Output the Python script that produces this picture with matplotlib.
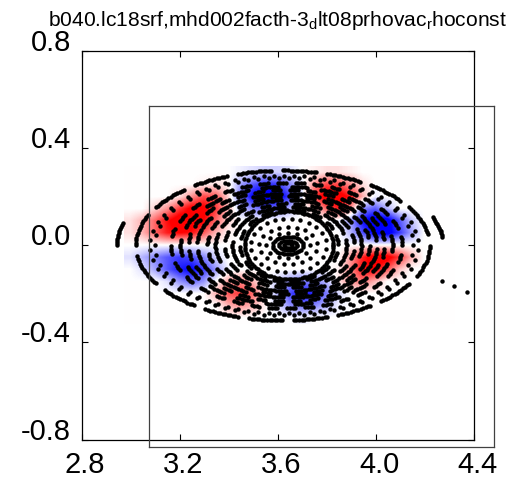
import numpy as np
import matplotlib
matplotlib.use("Agg")
import matplotlib.pyplot as plt
from matplotlib.ticker import FormatStrFormatter
from matplotlib.transforms import ScaledTranslation

plt.rcParams["font.family"] = ["Liberation Sans", "DejaVu Sans"]
plt.rcParams["mathtext.fontset"] = "custom"
plt.rcParams["mathtext.rm"] = "Liberation Sans"
plt.rcParams["axes.unicode_minus"] = False

TITLE = r"b040.lc18srf,mhd002facth-3$_\mathrm{d}$lt08prhovac$_\mathrm{r}$hoconst"

X_TICKS = [2.8, 3.2, 3.6, 4.0, 4.4]
Y_TICKS = [-0.8, -0.4, 0.0, 0.4, 0.8]

# mode amplitude on a 0.05 grid: R = 3.00 .. 4.30 (columns), Z = 0.30 .. -0.30 (rows)
FIELD_R = (3.00, 4.30)
FIELD_Z = (0.30, -0.30)
field = [
    [0, 0, 0, 0, 0, 0, 0, 0, 0, -.05, -.1, -.15, -.15, -.1, 0, .05, .1, .1, .05, 0, 0, 0, 0, 0, 0, 0, 0],
    [0, 0, 0, 0, 0, 0, .05, .1, .05, -.3, -.55, -.7, -.65, -.4, -.1, .35, .6, .6, .35, .1, 0, 0, 0, 0, 0, 0, 0],
    [0, 0, 0, 0, .1, .35, .6, .55, .15, -.45, -.85, -1, -.95, -.65, -.1, .6, 1, 1, .75, .25, -.05, 0, 0, 0, 0, 0, 0],
    [0, 0, .15, .35, .65, .9, .9, .65, .25, -.2, -.4, -.5, -.45, -.25, 0, .15, .5, .75, .35, -.4, -.55, -.25, 0, 0, 0, 0, 0],
    [.1, .25, .5, .8, 1, 1, .85, .5, .15, 0, 0, 0, 0, 0, 0, 0, 0, -.05, -.35, -.8, -1, -.95, -.55, -.2, 0, 0, 0],
    [.1, .25, .5, .75, .85, .8, .55, .25, .05, 0, 0, 0, 0, 0, 0, 0, 0, 0, -.25, -.6, -.9, -.95, -.65, -.3, 0, 0, 0],
    [0, 0, 0, 0, 0, 0, 0, 0, 0, 0, 0, 0, 0, 0, 0, 0, 0, 0, 0, 0, 0, 0, 0, 0, 0, 0, 0],
    [-.1, -.25, -.4, -.55, -.65, -.6, -.4, -.15, 0, 0, 0, 0, 0, 0, 0, 0, 0, 0, .35, .75, 1, .95, .65, .25, 0, 0, 0],
    [0, -.1, -.3, -.55, -.75, -.85, -.65, -.35, -.05, 0, 0, 0, 0, 0, 0, 0, 0, .05, .4, .8, .85, .55, .2, 0, 0, 0, 0],
    [0, 0, 0, -.1, -.35, -.5, -.35, 0, .3, .4, .25, 0, -.15, -.35, -.45, -.4, -.25, .1, .35, .45, .25, 0, 0, 0, 0, 0, 0],
    [0, 0, 0, 0, 0, 0, 0, .25, .55, .65, .5, .1, -.25, -.6, -.8, -.7, -.45, -.15, 0, 0, 0, 0, 0, 0, 0, 0, 0],
    [0, 0, 0, 0, 0, 0, 0, 0, .25, .35, .25, .05, -.1, -.35, -.45, -.4, -.25, -.05, 0, 0, 0, 0, 0, 0, 0, 0, 0],
    [0, 0, 0, 0, 0, 0, 0, 0, 0, 0, 0, 0, 0, 0, -.05, 0, 0, 0, 0, 0, 0, 0, 0, 0, 0, 0, 0],
]

# flux surfaces traced in the puncture plot
surf_r0 = [3.642, 3.642, 3.642, 3.642, 3.643, 3.644, 3.646, 3.646, 3.648, 3.648,
           3.644, 3.644, 3.638, 3.636, 3.636, 3.636, 3.626, 3.626, 3.620]
surf_a = [0.018, 0.037, 0.062, 0.090, 0.118, 0.155, 0.180, 0.200, 0.233, 0.265,
          0.298, 0.331, 0.367, 0.400, 0.433, 0.473, 0.527, 0.547, 0.600]
surf_b = [0.010, 0.020, 0.036, 0.052, 0.077, 0.111, 0.140, 0.148, 0.160, 0.173,
          0.189, 0.202, 0.214, 0.230, 0.243, 0.259, 0.280, 0.288, 0.309]
surf_nseg = [1, 1, 1, 12, 17, 24, 1, 16, 9, 20, 10, 24, 12, 28, 18, 32, 62, 66, 16]
surf_fill = [1, 1, 1, 0, 0, 0, 1, .55, .8, .5, .8, .5, .75, .45, .6, .45, 0, 0, .75]
surf_phase = [0, 0, 0, 0, .3, .6, 0, .1, .4, .2, .7, .5, .15, .35, .8, .05, 0, .5, .25]

# outermost surface only shows up as two short arcs, plus an escaping line
outer_r0, outer_a, outer_b = 3.609, 0.665, 0.337
outer_arcs = [(164, 180), (6, 20)]
escape_r = [4.271, 4.320, 4.373]
escape_z = [-0.148, -0.169, -0.193]

STEP = 0.0105


def ring_points(r0, a, b, nseg, fill, phase):
    t = np.linspace(0, 2 * np.pi, 3001)
    x = r0 + a * np.cos(t)
    y = b * np.sin(t)
    s = np.concatenate([[0], np.cumsum(np.hypot(np.diff(x), np.diff(y)))])
    length = s[-1]
    seg_len = length / nseg
    pos = []
    for k in range(nseg):
        start = (k + phase) * seg_len
        n = int(fill * seg_len / STEP) + 1
        pos.extend(start + np.arange(n) * STEP)
    tt = np.interp(np.mod(pos, length), s, t)
    return r0 + a * np.cos(tt), b * np.sin(tt)


fig = plt.figure(figsize=(5.1, 4.83), dpi=100)
ax = fig.add_axes([0.160, 0.0899, 0.769, 0.804])

dr = 0.025
ax.imshow(np.array(field), cmap="bwr", vmin=-0.85, vmax=0.85, interpolation="bilinear",
          extent=[FIELD_R[0] - dr, FIELD_R[1] + dr, FIELD_Z[1] - dr, FIELD_Z[0] + dr],
          aspect="auto", zorder=1)

for i in range(len(surf_a)):
    px, py = ring_points(surf_r0[i], surf_a[i], surf_b[i], surf_nseg[i], surf_fill[i], surf_phase[i])
    ax.plot(px, py, "o", color="k", ms=3.2, mew=0, zorder=3)

for t0, t1 in outer_arcs:
    tt = np.radians(np.linspace(t0, t1, 12))
    ax.plot(outer_r0 + outer_a * np.cos(tt), outer_b * np.sin(tt), "o", color="k", ms=3.2, mew=0, zorder=3)
ax.plot(escape_r, escape_z, "o", color="k", ms=3.2, mew=0, zorder=3)

ax.set_xlim(X_TICKS[0], X_TICKS[-1])
ax.set_ylim(Y_TICKS[0], Y_TICKS[-1])
ax.set_xticks(X_TICKS)
ax.set_yticks(Y_TICKS)
ax.xaxis.set_major_formatter(FormatStrFormatter("%.1f"))
ax.yaxis.set_major_formatter(FormatStrFormatter("%.1f"))
ax.tick_params(direction="in", length=4.3, width=0.8, top=True, right=True, labelsize=21)
ax.tick_params(axis="x", pad=8.3)
ax.tick_params(axis="y", pad=7.7)
for lab in ax.get_yticklabels():
    lab.set_verticalalignment("baseline")
shift = ScaledTranslation(0.035, 0, fig.dpi_scale_trans)
for lab in ax.get_xticklabels():
    lab.set_transform(lab.get_transform() + shift)
for sp in ax.spines.values():
    sp.set_linewidth(0.9)

# empty overlay frame
ax2 = fig.add_axes([0.2922, 0.0745, 0.6765, 0.706], facecolor="none")
ax2.set_xticks([])
ax2.set_yticks([])
for sp in ax2.spines.values():
    sp.set_linewidth(0.9)
    sp.set_color("0.25")

fig.text(48 / 510, 1 - 26 / 483, TITLE, ha="left", va="baseline", fontsize=15.1)

fig.savefig("out.png", dpi=100)
